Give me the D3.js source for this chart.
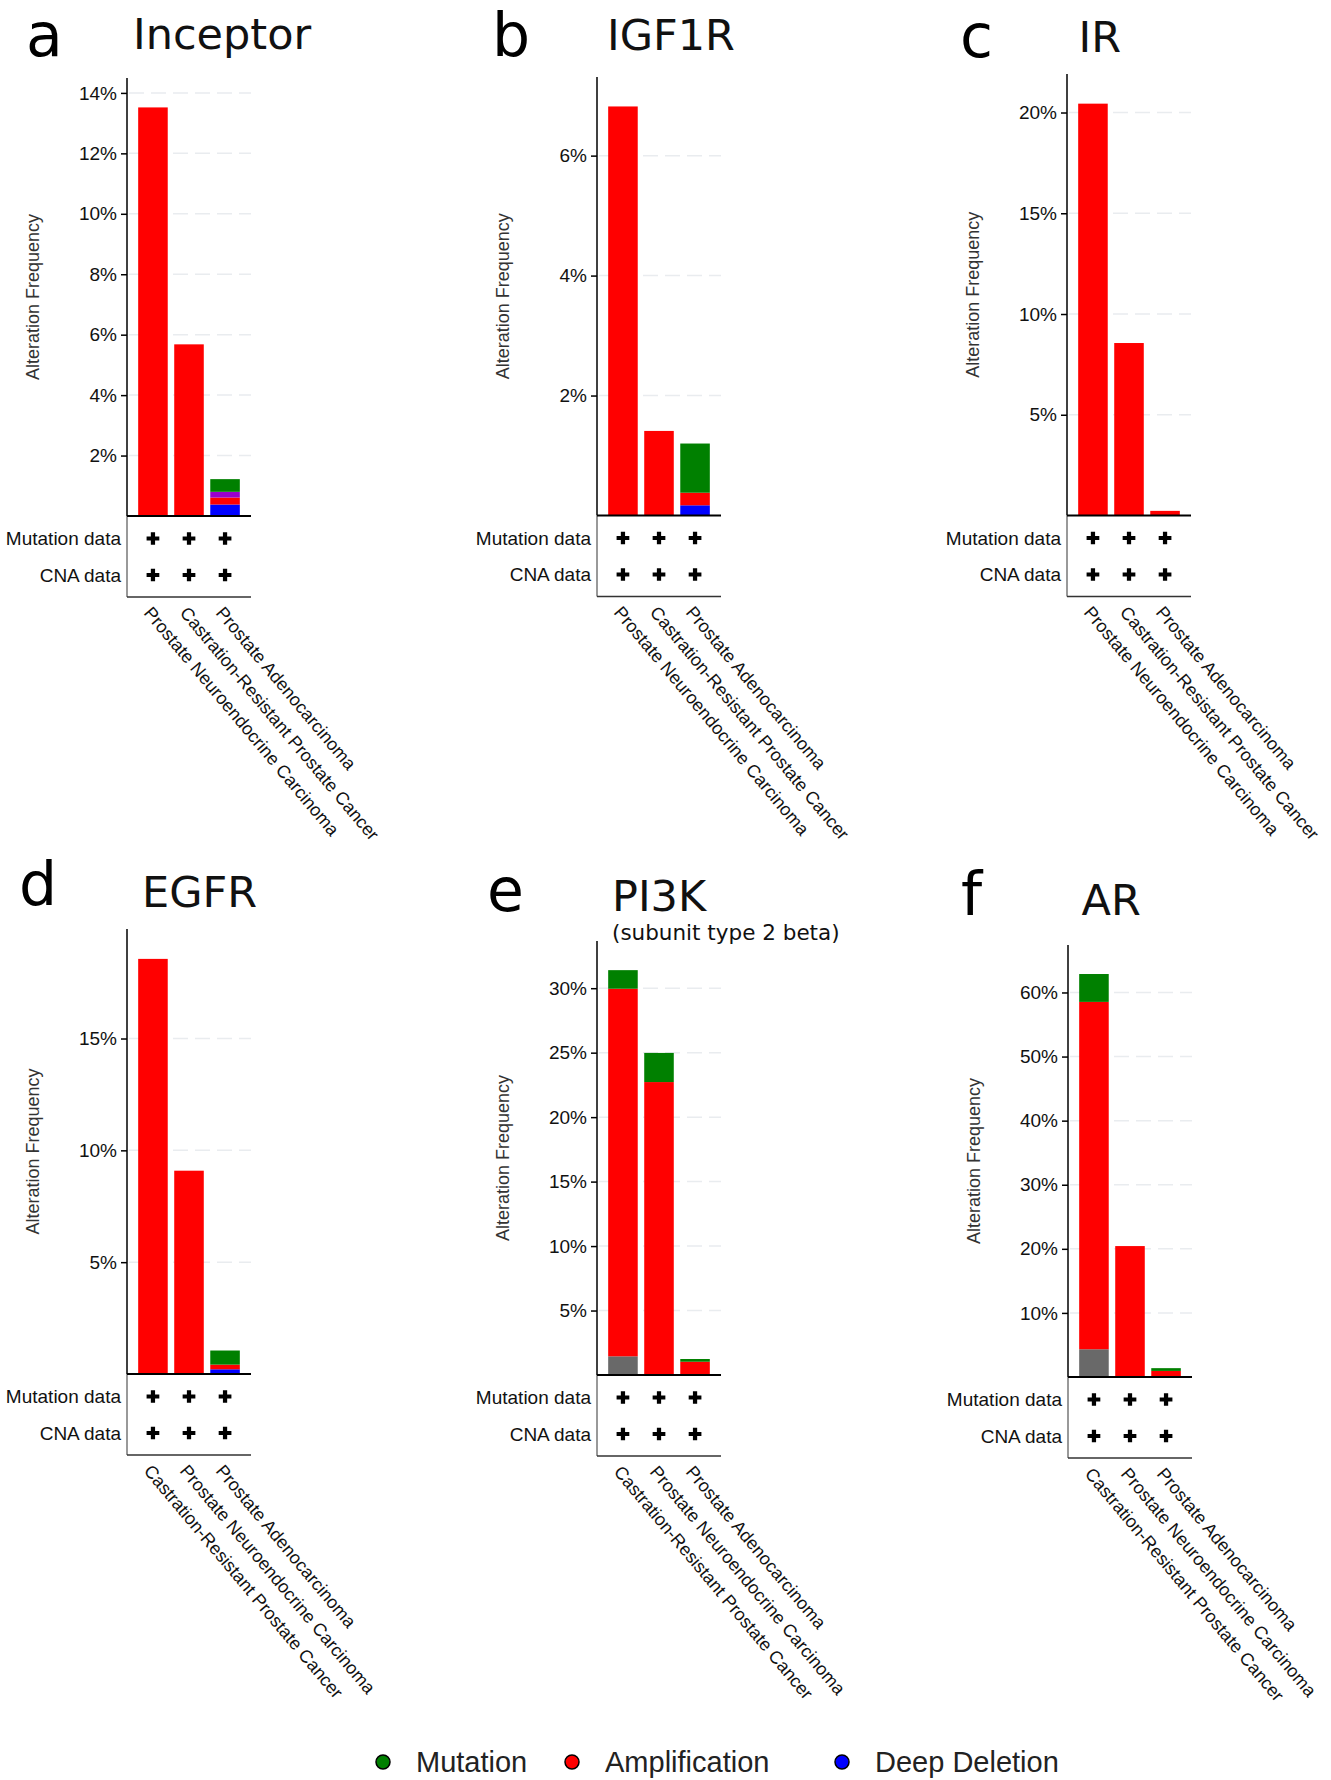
<!DOCTYPE html>
<html>
<head>
<meta charset="utf-8">
<script src="https://cdn.jsdelivr.net/npm/d3@7/dist/d3.min.js"></script>
<style>
  body { margin: 0; background: #fff; }
  svg { display: block; }
</style>
</head>
<body>
<script>
// ---- data ----
var panelLetters = ["a", "b", "c", "d", "e", "f"];
var genes = ["Inceptor", "IGF1R", "IR", "EGFR", "PI3K", "AR"];
var subtitles = ["", "", "", "", "(subunit type 2 beta)", ""];

var catsTop = ["Prostate Neuroendocrine Carcinoma", "Castration-Resistant Prostate Cancer", "Prostate Adenocarcinoma"];
var catsBottom = ["Castration-Resistant Prostate Cancer", "Prostate Neuroendocrine Carcinoma", "Prostate Adenocarcinoma"];
var categories = [catsTop, catsTop, catsTop, catsBottom, catsBottom, catsBottom];

// alteration frequency (%) per panel, per cancer type
var mutation      = [[0, 0, 0.42], [0, 0, 0.82], [0, 0, 0],    [0, 0, 0.63],     [1.44, 2.26, 0.21], [4.35, 0, 0.43]];
var fusion        = [[0, 0, 0.19], [0, 0, 0],    [0, 0, 0],    [0, 0, 0],        [0, 0, 0],          [0, 0, 0]];
var amplification = [[13.52, 5.68, 0.23], [6.82, 1.41, 0.21], [20.44, 8.56, 0.23], [18.56, 9.09, 0.21], [28.51, 22.72, 1.03], [54.2, 20.43, 0.95]];
var deepDeletion  = [[0, 0, 0.38], [0, 0, 0.17], [0, 0, 0],    [0, 0, 0.21],     [0, 0, 0],          [0, 0, 0]];
var multipleAlt   = [[0, 0, 0],    [0, 0, 0],    [0, 0, 0],    [0, 0, 0],        [1.45, 0, 0],       [4.33, 0, 0]];

var yTicks = [[2, 4, 6, 8, 10, 12, 14], [2, 4, 6], [5, 10, 15, 20], [5, 10, 15], [5, 10, 15, 20, 25, 30], [10, 20, 30, 40, 50, 60]];
var rowLabels = ["Mutation data", "CNA data"];
var legendLabels = ["Mutation", "Amplification", "Deep Deletion"];

// ---- layout ----
var width = 1331, height = 1780, plotW = 124;
var keys = ["multiple", "deletion", "amplification", "fusion", "mutation"];
var colors = {mutation: "#008000", amplification: "#ff0000", deletion: "#0000ff", fusion: "#9900cc", multiple: "#696969"};

var layout = [
  {x: 127,  top: 78,  base: 516,  titleDx: 6,    titleY: 49,  letterDx: -101, letterY: 56},
  {x: 597,  top: 77,  base: 515.5, titleDx: 10,  titleY: 50,  letterDx: -105, letterY: 56},
  {x: 1067, top: 74,  base: 515.5, titleDx: 11.5, titleY: 52, letterDx: -107, letterY: 57},
  {x: 127,  top: 929, base: 1374, titleDx: 15,   titleY: 907, letterDx: -108, letterY: 905},
  {x: 597,  top: 941, base: 1375, titleDx: 15,   titleY: 911, letterDx: -110, letterY: 911},
  {x: 1068, top: 945, base: 1377, titleDx: 13.5, titleY: 915, letterDx: -107, letterY: 915}
];

var svg = d3.select("body").append("svg")
    .attr("width", width)
    .attr("height", height);

var labelFont = "'Liberation Sans', Arial, sans-serif";
var titleFont = "'DejaVu Sans', Verdana, sans-serif";

panelLetters.forEach(function(letter, p) {
  var L = layout[p];
  var g = svg.append("g").attr("transform", "translate(" + L.x + ",0)");

  var rows = categories[p].map(function(c, i) {
    return {cat: c, mutation: mutation[p][i], fusion: fusion[p][i], amplification: amplification[p][i],
            deletion: deepDeletion[p][i], multiple: multipleAlt[p][i]};
  });
  var series = d3.stack().keys(keys)(rows);
  var maxTotal = d3.max(series[series.length - 1], function(d) { return d[1]; });

  var x = d3.scaleBand()
      .domain(categories[p])
      .range([0, plotW])
      .paddingInner(0.18)
      .paddingOuter(0.31);

  var y = d3.scaleLinear()
      .domain([0, maxTotal * 1.072])
      .range([L.base, L.top]);

  // grid
  g.append("g").selectAll("line")
      .data(yTicks[p])
    .enter().append("line")
      .attr("x1", 2).attr("x2", plotW)
      .attr("y1", function(d) { return y(d); })
      .attr("y2", function(d) { return y(d); })
      .style("stroke", "#e9ecef")
      .style("stroke-width", "1.5px")
      .style("stroke-dasharray", "15,7");

  // bars
  g.append("g").selectAll("g")
      .data(series)
    .enter().append("g")
      .style("fill", function(d) { return colors[d.key]; })
    .selectAll("rect")
      .data(function(d) { return d; })
    .enter().append("rect")
      .attr("x", function(d) { return x(d.data.cat); })
      .attr("width", x.bandwidth())
      .attr("y", function(d) { return y(d[1]); })
      .attr("height", function(d) { return y(d[0]) - y(d[1]); });

  // y axis
  var yAxis = d3.axisLeft(y)
      .tickValues(yTicks[p])
      .tickFormat(function(d) { return d + "%"; })
      .tickSize(6)
      .tickPadding(4);

  var ax = g.append("g").call(yAxis);
  ax.select(".domain").remove();
  ax.selectAll("line").style("stroke", "#000").style("stroke-width", "1.5px");
  ax.selectAll("text")
      .style("font-family", labelFont)
      .style("font-size", "19px")
      .style("fill", "#111");

  g.append("line")
      .attr("x1", 0).attr("x2", 0)
      .attr("y1", L.top).attr("y2", L.base)
      .style("stroke", "#000").style("stroke-width", "1.5px");

  // lower table
  var tableBottom = L.base + 81;
  g.append("line")
      .attr("x1", 0).attr("x2", 0)
      .attr("y1", L.base).attr("y2", tableBottom)
      .style("stroke", "#777").style("stroke-width", "1.5px");
  g.append("line")
      .attr("x1", 0).attr("x2", plotW)
      .attr("y1", L.base).attr("y2", L.base)
      .style("stroke", "#000").style("stroke-width", "2px");
  g.append("line")
      .attr("x1", 0).attr("x2", plotW)
      .attr("y1", tableBottom).attr("y2", tableBottom)
      .style("stroke", "#333").style("stroke-width", "1.5px");

  var rowY = [L.base + 22.5, L.base + 59];
  rowLabels.forEach(function(lab, r) {
    g.append("text")
        .attr("x", -6)
        .attr("y", rowY[r])
        .attr("dy", "0.35em")
        .style("text-anchor", "end")
        .style("font-family", labelFont)
        .style("font-size", "19px")
        .style("fill", "#111")
        .text(lab);

    g.append("g").selectAll("path")
        .data(categories[p])
      .enter().append("path")
        .attr("d", d3.symbol().type(d3.symbolCross).size(90))
        .attr("transform", function(d) { return "translate(" + (x(d) + x.bandwidth() / 2) + "," + rowY[r] + ")"; })
        .style("fill", "#000");
  });

  // rotated cancer type labels
  g.append("g").selectAll("text")
      .data(categories[p])
    .enter().append("text")
      .attr("transform", function(d) { return "translate(" + (x(d) + x.bandwidth() / 2) + "," + (tableBottom + 8) + ") rotate(50)"; })
      .attr("dy", "0.72em")
      .style("font-family", labelFont)
      .style("font-size", "18px")
      .style("fill", "#111")
      .text(function(d) { return d; });

  // y axis title
  g.append("text")
      .attr("transform", "translate(-94," + ((L.top + L.base) / 2) + ") rotate(-90)")
      .attr("dy", "0.35em")
      .style("text-anchor", "middle")
      .style("font-family", labelFont)
      .style("font-size", "18px")
      .style("fill", "#333")
      .text("Alteration Frequency");

  // gene title + panel letter
  g.append("text")
      .attr("x", L.titleDx)
      .attr("y", L.titleY)
      .style("font-family", titleFont)
      .style("font-size", "43px")
      .style("fill", "#111")
      .text(genes[p]);

  if (subtitles[p]) {
    g.append("text")
        .attr("x", L.titleDx)
        .attr("y", L.titleY + 29)
        .style("font-family", titleFont)
        .style("font-size", "21.5px")
        .style("fill", "#111")
        .text(subtitles[p]);
  }

  g.append("text")
      .attr("x", L.letterDx)
      .attr("y", L.letterY)
      .style("font-family", titleFont)
      .style("font-size", "60px")
      .style("fill", "#000")
      .text(letter);
});

// legend
var legendX = [383, 572, 842];
var legendColors = [colors.mutation, colors.amplification, colors.deletion];
var legend = svg.append("g").attr("transform", "translate(0,1762)");

legend.selectAll("circle")
    .data(legendLabels)
  .enter().append("circle")
    .attr("cx", function(d, i) { return legendX[i]; })
    .attr("r", 7)
    .style("fill", function(d, i) { return legendColors[i]; })
    .style("stroke", "#000")
    .style("stroke-width", "1.5px");

legend.selectAll("text")
    .data(legendLabels)
  .enter().append("text")
    .attr("x", function(d, i) { return legendX[i] + 33; })
    .attr("dy", "0.35em")
    .style("font-family", labelFont)
    .style("font-size", "29px")
    .style("fill", "#222")
    .text(function(d) { return d; });
</script>
</body>
</html>
